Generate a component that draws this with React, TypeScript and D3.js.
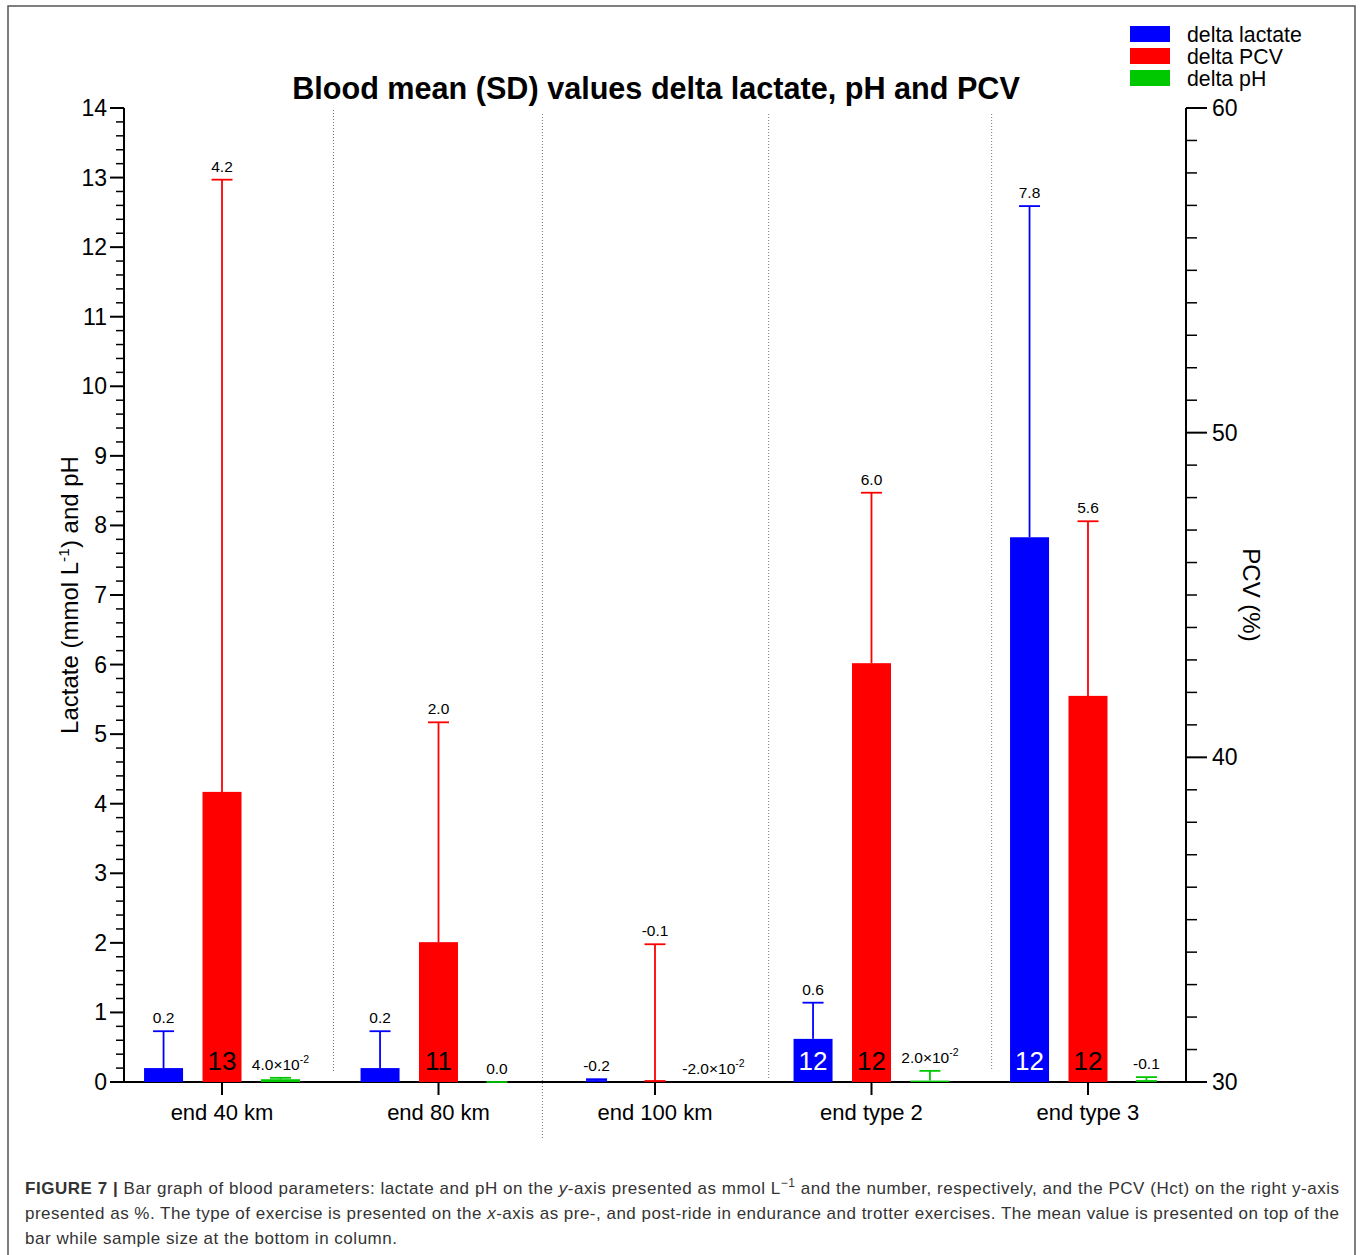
import React from "react";
import * as d3 from "d3";

const categories = ["end 40 km", "end 80 km", "end 100 km", "end type 2", "end type 3"];
const seriesNames = ["delta lactate", "delta PCV", "delta pH"];
const seriesColors = ["#0000ff", "#ff0000", "#00c800"];

const lactateMean = [0.2, 0.2, -0.2, 0.62, 7.83];
const lactateSD = [0.53, 0.53, 0.24, 0.52, 4.76];
const pcvMean = [4.17, 2.01, -0.1, 6.02, 5.55];
const pcvSD = [8.8, 3.16, 2.08, 2.45, 2.51];
const phMean = [0.04, 0.0, -0.02, 0.02, -0.1];
const phSD = [0.02, 0.0, 0.01, 0.14, 0.17];

const lactateLabels = ["0.2", "0.2", "-0.2", "0.6", "7.8"];
const pcvLabels = ["4.2", "2.0", "-0.1", "6.0", "5.6"];
const phLabels = ["4.0×10^-2", "0.0", "-2.0×10^-2", "2.0×10^-2", "-0.1"];

const lactateN = [null, null, null, 12, 12];
const pcvN = [13, 11, null, 12, 12];
const phN = [null, null, null, null, null];

const leftMajorTicks = d3.range(0, 15);
const rightMajorTicks = [30, 40, 50, 60];

const title = "Blood mean (SD) values delta lactate, pH and PCV";

const FONT = "'Liberation Sans', Arial, Helvetica, sans-serif";

function LabelText({ label, x, y, size, fill }) {
  const parts = label.split("^");
  return (
    <text x={x} y={y} textAnchor="middle" fontSize={size} fill={fill} fontFamily={FONT}>
      {parts[0]}
      {parts.length > 1 && (
        <tspan fontSize={size * 0.68} dy={-size * 0.42}>
          {parts[1]}
        </tspan>
      )}
    </text>
  );
}

export default function App() {
  const W = 1360;
  const H = 1255;
  const left = 124;
  const right = 1186;
  const top = 108;
  const bottom = 1082;

  const y = d3.scaleLinear().domain([0, 14]).range([bottom, top]);
  const yR = d3.scaleLinear().domain([30, 60]).range([bottom, top]);
  const x = d3.scalePoint().domain(categories).range([left, right]).padding(0.4527);
  const step = x.step();
  const barOffset = step * 0.27;
  const barW = 39;
  const capW = 21;

  const series = [
    { mean: lactateMean, sd: lactateSD, labels: lactateLabels, n: lactateN, nColor: "#ffffff" },
    { mean: pcvMean, sd: pcvSD, labels: pcvLabels, n: pcvN, nColor: "#000000" },
    { mean: phMean, sd: phSD, labels: phLabels, n: phN, nColor: "#000000" },
  ];

  const sepFrac = [0.515, 0.48, 0.525, 0.555];
  const sepTop = [110, 114, 114, 114];
  const sepBottom = [1072, 1140, 1078, 1070];

  const leftMinor = d3.range(0, 71).map((i) => i / 5).filter((v) => Math.abs(v - Math.round(v)) > 1e-6);
  const rightMinor = d3.range(30, 61).filter((v) => v % 10 !== 0);

  return (
    <div style={{ position: "absolute", left: 0, top: 0 }}>
      <svg width={W} height={H} style={{ display: "block" }}>
        <rect x={0} y={0} width={W} height={H} fill="#ffffff" />
        <rect x={8} y={6} width={1347} height={1270} fill="none" stroke="#555" strokeWidth={1.5} />

        {/* title */}
        <text x={656} y={99} textAnchor="middle" fontSize={30.6} fontWeight="bold" fontFamily={FONT} fill="#000">
          {title}
        </text>

        {/* legend */}
        {seriesNames.map((name, i) => (
          <g key={name}>
            <rect x={1130} y={26 + i * 22} width={40} height={16} fill={seriesColors[i]} />
            <text x={1187} y={41.5 + i * 22} fontSize={21.3} fontFamily={FONT} fill="#000">
              {name}
            </text>
          </g>
        ))}

        {/* separators */}
        {categories.slice(0, 4).map((c, i) => {
          const sx = (x(c) as number) + step * sepFrac[i];
          return (
            <line key={"sep" + i} x1={sx} x2={sx} y1={sepTop[i]} y2={sepBottom[i]} stroke="#777" strokeWidth={1} strokeDasharray="1,2" />
          );
        })}

        {/* left axis */}
        <line x1={left} x2={left} y1={top} y2={bottom} stroke="#000" strokeWidth={2} />
        {leftMajorTicks.map((t) => (
          <g key={"lt" + t}>
            <line x1={left - 14} x2={left} y1={y(t)} y2={y(t)} stroke="#000" strokeWidth={2} />
            <text x={107} y={y(t) + 8} textAnchor="end" fontSize={23} fontFamily={FONT} fill="#000">
              {t}
            </text>
          </g>
        ))}
        {leftMinor.map((t) => (
          <line key={"lm" + t} x1={left - 8} x2={left} y1={y(t)} y2={y(t)} stroke="#000" strokeWidth={1.5} />
        ))}
        <text transform={`translate(78,595) rotate(-90)`} textAnchor="middle" fontSize={24} fontFamily={FONT} fill="#000">
          Lactate (mmol L
          <tspan fontSize={15.5} dy={-9}>-1</tspan>
          <tspan dy={9}>) and pH</tspan>
        </text>

        {/* right axis */}
        <line x1={right} x2={right} y1={top} y2={bottom} stroke="#000" strokeWidth={2} />
        {rightMajorTicks.map((t) => (
          <g key={"rt" + t}>
            <line x1={right} x2={right + 21} y1={yR(t)} y2={yR(t)} stroke="#000" strokeWidth={2} />
            <text x={1212} y={yR(t) + 8} textAnchor="start" fontSize={23} fontFamily={FONT} fill="#000">
              {t}
            </text>
          </g>
        ))}
        {rightMinor.map((t) => (
          <line key={"rm" + t} x1={right} x2={right + 11} y1={yR(t)} y2={yR(t)} stroke="#000" strokeWidth={1.5} />
        ))}
        <text transform={`translate(1243,595) rotate(90)`} textAnchor="middle" fontSize={24} fontFamily={FONT} fill="#000">
          PCV (%)
        </text>

        {/* x axis */}
        <line x1={left} x2={right} y1={bottom} y2={bottom} stroke="#000" strokeWidth={2} />
        {categories.map((c) => (
          <g key={"xt" + c}>
            <line x1={x(c)} x2={x(c)} y1={bottom} y2={bottom + 13} stroke="#000" strokeWidth={2} />
            <text x={x(c)} y={1120} textAnchor="middle" fontSize={22} fontFamily={FONT} fill="#000">
              {c}
            </text>
          </g>
        ))}

        {/* bars */}
        {categories.map((c, ci) =>
          series.map((s, si) => {
            const cx = (x(c) as number) + (si - 1) * barOffset;
            const m = s.mean[ci];
            const topVal = m + s.sd[ci];
            const barTop = y(Math.max(m, 0));
            const errTop = y(Math.max(topVal, 0));
            const color = seriesColors[si];
            const showErr = topVal >= 0;
            return (
              <g key={c + si}>
                {m > 0 && (
                  <rect x={cx - barW / 2} y={barTop} width={barW} height={y(0) - barTop} fill={color} />
                )}
                {showErr && (
                  <g stroke={color} strokeWidth={1.8}>
                    <line x1={cx} x2={cx} y1={barTop} y2={errTop} />
                    <line x1={cx - capW / 2} x2={cx + capW / 2} y1={errTop} y2={errTop} />
                    {m < 0 && <line x1={cx - capW / 2} x2={cx + capW / 2} y1={y(0) - 1} y2={y(0) - 1} />}
                  </g>
                )}
                <LabelText label={s.labels[ci]} x={cx} y={errTop - 8} size={15.5} fill="#000" />
                {s.n[ci] != null && (
                  <text x={cx} y={1070} textAnchor="middle" fontSize={26} fontFamily={FONT} fill={s.nColor}>
                    {s.n[ci]}
                  </text>
                )}
              </g>
            );
          })
        )}

        {/* caption */}
        <text x={25} y={1194} fontSize={17} fontFamily={FONT} fill="#333" textLength={1314} lengthAdjust="spacing">
          <tspan fontWeight="bold">FIGURE 7 |</tspan> Bar graph of blood parameters: lactate and pH on the{" "}
          <tspan fontStyle="italic">y</tspan>-axis presented as mmol L
          <tspan fontSize={12} dy={-7}>−1</tspan>
          <tspan dy={7}> and the number, respectively, and the PCV (Hct) on the right y-axis</tspan>
        </text>
        <text x={25} y={1219} fontSize={17} fontFamily={FONT} fill="#333" textLength={1314} lengthAdjust="spacing">
          presented as %. The type of exercise is presented on the <tspan fontStyle="italic">x</tspan>-axis as pre-, and post-ride in endurance and trotter exercises. The mean value is presented on top of the
        </text>
        <text x={25} y={1244} fontSize={17} fontFamily={FONT} fill="#333" textLength={372} lengthAdjust="spacing">
          bar while sample size at the bottom in column.
        </text>
      </svg>
    </div>
  );
}
